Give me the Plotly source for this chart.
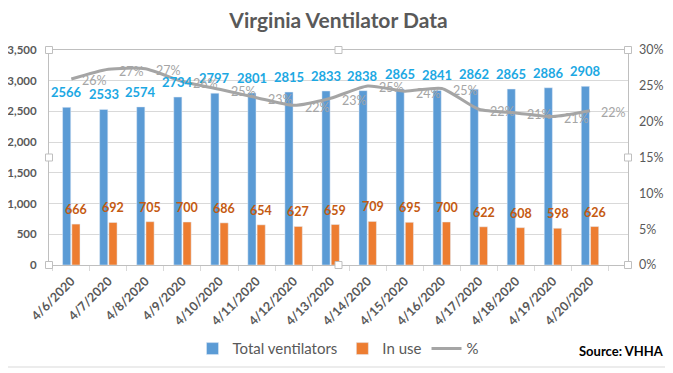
import plotly.graph_objects as go

dates = ["4/6/2020", "4/7/2020", "4/8/2020", "4/9/2020", "4/10/2020", "4/11/2020",
         "4/12/2020", "4/13/2020", "4/14/2020", "4/15/2020", "4/16/2020", "4/17/2020",
         "4/18/2020", "4/19/2020", "4/20/2020"]
total_ventilators = [2566, 2533, 2574, 2734, 2797, 2801, 2815, 2833, 2838, 2865,
                     2841, 2862, 2865, 2886, 2908]
in_use = [666, 692, 705, 700, 686, 654, 627, 659, 709, 695, 700, 622, 608, 598, 626]
pct_in_use = [u / t for u, t in zip(in_use, total_ventilators)]

left_ticks = [0, 500, 1000, 1500, 2000, 2500, 3000, 3500]
right_ticks = [0, 0.05, 0.10, 0.15, 0.20, 0.25, 0.30]

BLUE = "#5B9BD5"
ORANGE = "#ED7D31"
GRAY = "#A5A5A5"
TXT = "#595959"
FONT = "Lato"

fig = go.Figure()
fig.add_trace(go.Bar(x=dates, y=total_ventilators, name="Total ventilators",
                     marker_color=BLUE, yaxis="y"))
fig.add_trace(go.Bar(x=dates, y=in_use, name="In use",
                     marker_color=ORANGE, yaxis="y"))
fig.add_trace(go.Scatter(x=dates, y=pct_in_use, name="%", mode="lines",
                         line=dict(color=GRAY, width=3, shape="spline", smoothing=0.6),
                         yaxis="y2"))

annotations = []
for d, v in zip(dates, total_ventilators):
    annotations.append(dict(x=d, y=v, xref="x", yref="y", text=str(v), showarrow=False,
                            xshift=-4.8, yshift=5, yanchor="bottom",
                            font=dict(family=FONT, size=13, color="#1CA8E3", weight="bold")))
for d, v in zip(dates, in_use):
    annotations.append(dict(x=d, y=v, xref="x", yref="y", text=str(v), showarrow=False,
                            xshift=4.8, yshift=5, yanchor="bottom",
                            font=dict(family=FONT, size=12.5, color="#C55A11", weight="bold")))
for d, p in zip(dates, pct_in_use):
    annotations.append(dict(x=d, y=p, xref="x", yref="y2", text=f"{round(p*100)}%",
                            showarrow=False, xanchor="left", xshift=9, yshift=-2,
                            font=dict(family=FONT, size=12.5, color=GRAY)))
annotations.append(dict(x=1.0, y=-0.40, xref="paper", yref="paper", text="<b>Source: VHHA</b>",
                        showarrow=False, xanchor="center", yanchor="middle", xshift=-7,
                        font=dict(family=FONT, size=13, color="#000000")))

# page body adds an 8px offset; the layout is shifted to compensate
shapes = [dict(type="rect", xref="paper", yref="paper",
               x0=-56/579, x1=620/579, y0=-102/215, y1=272/215,
               line=dict(color="#D9D9D9", width=1), fillcolor="rgba(0,0,0,0)", layer="below")]
for hx, hy in [(0, 1), (0.5, 1), (1, 1), (0, 0.5), (1, 0.5), (0, 0), (0.5, 0), (1, 0)]:
    shapes.append(dict(type="rect", xref="paper", yref="paper", xsizemode="pixel",
                       ysizemode="pixel", xanchor=hx, yanchor=hy, x0=-3.5, x1=3.5,
                       y0=-3.5, y1=3.5, fillcolor="white",
                       line=dict(color="#BFBFBF", width=1), layer="above"))

fig.update_layout(
    width=673, height=373,
    margin=dict(l=41, r=53, t=42, b=116, autoexpand=False),
    paper_bgcolor="white", plot_bgcolor="white",
    title=dict(text="<b>Virginia Ventilator Data</b>", x=0.5, xref="paper", xanchor="center",
               y=1 - 13/373, yanchor="middle", yref="container",
               font=dict(family=FONT, size=21, color=TXT)),
    barmode="group", bargap=0.5, bargroupgap=0.12,
    font=dict(family=FONT, color=TXT),
    xaxis=dict(type="category", tickangle=-45, tickson="boundaries", ticks="outside",
               ticklen=5, tickcolor="#D9D9D9", showline=True, linecolor="#BFBFBF",
               mirror=True, showgrid=False, ticklabelstandoff=3, automargin=False,
               tickfont=dict(family=FONT, size=12.5, color=TXT, weight="bold")),
    yaxis=dict(range=[0, 3500], tickvals=left_ticks, tickformat=",", showgrid=True,
               gridcolor="#D9D9D9", showline=True, linecolor="#BFBFBF", mirror=True,
               zeroline=False, ticklabelstandoff=9, automargin=False,
               tickfont=dict(family=FONT, size=11.5, color=TXT, weight="bold")),
    yaxis2=dict(range=[0, 0.30], tickvals=right_ticks, tickformat=".0%", overlaying="y",
                side="right", showgrid=False, zeroline=False, ticklabelstandoff=10,
                automargin=False,
                tickfont=dict(family=FONT, size=12.5, color=TXT)),
    legend=dict(orientation="h", x=0.5, xanchor="center", y=-0.39, yanchor="middle",
                font=dict(family=FONT, size=15, color=TXT), itemwidth=30),
    annotations=annotations,
    shapes=shapes,
)

fig.write_html("out.html")
